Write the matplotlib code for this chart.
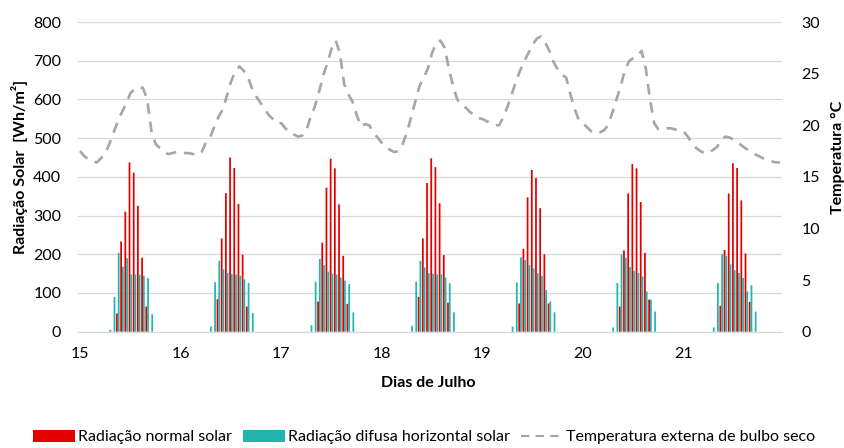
import numpy as np
import matplotlib
matplotlib.use("Agg")
import matplotlib.pyplot as plt
from matplotlib.lines import Line2D
from matplotlib.patches import Patch

plt.rcParams['font.family'] = ['Lato', 'DejaVu Sans']

days = [15, 16, 17, 18, 19, 20, 21]
sun_hours = list(range(7, 18))

# hourly radiation for hours 7..17 of each day [Wh/m2]
normal = [
    [0, 0, 47, 233, 310, 437, 411, 325, 191, 65, 0],
    [0, 0, 84, 241, 358, 450, 423, 330, 199, 65, 0],
    [0, 0, 78, 230, 372, 447, 422, 329, 196, 72, 0],
    [0, 0, 90, 241, 384, 448, 425, 332, 198, 75, 0],
    [0, 0, 73, 214, 347, 418, 397, 319, 200, 73, 0],
    [0, 0, 65, 210, 357, 433, 422, 335, 204, 83, 0],
    [0, 0, 67, 211, 357, 435, 423, 339, 202, 77, 0],
]
diffuse = [
    [5, 90, 204, 168, 190, 148, 148, 147, 145, 138, 45],
    [13, 128, 183, 161, 152, 150, 148, 145, 135, 126, 48],
    [17, 129, 188, 172, 155, 150, 148, 140, 132, 123, 50],
    [15, 129, 183, 166, 152, 150, 148, 148, 140, 125, 50],
    [13, 127, 192, 185, 172, 164, 151, 144, 108, 78, 50],
    [11, 126, 200, 191, 167, 157, 152, 143, 104, 83, 52],
    [11, 126, 200, 196, 174, 159, 152, 139, 104, 120, 52],
]

# dry bulb temperature, hours 0..23 of each day [C]
temp_15 = [17.5, 17.0, 16.7, 16.5, 16.4, 16.8, 17.3, 18.2, 19.3, 20.4, 21.3, 22.1,
           23.1, 23.5, 23.7, 23.6, 22.5, 19.5, 18.2, 17.8, 17.5, 17.2, 17.3, 17.4]
temp_16 = [17.4, 17.3, 17.3, 17.2, 17.1, 17.4, 18.3, 18.8, 19.8, 20.8, 21.5, 22.8,
           24.2, 25.2, 25.7, 25.3, 24.7, 23.6, 22.8, 22.2, 21.6, 21.0, 20.6, 20.2]
temp_17 = [20.2, 19.7, 19.3, 19.1, 18.9, 19.0, 19.5, 20.8, 21.8, 23.2, 24.8, 26.0,
           27.4, 28.2, 27.0, 24.0, 23.0, 22.3, 21.0, 19.9, 20.1, 20.0, 19.3, 18.8]
temp_18 = [18.3, 17.9, 17.6, 17.4, 17.5, 18.2, 19.3, 20.8, 22.3, 23.8, 24.6, 25.5,
           27.0, 28.0, 28.2, 27.5, 25.5, 23.8, 22.5, 22.0, 21.7, 21.3, 21.0, 20.7]
temp_19 = [20.6, 20.4, 20.2, 20.0, 20.0, 20.8, 21.8, 23.0, 24.2, 25.3, 26.2, 27.0,
           27.8, 28.4, 28.6, 28.0, 27.2, 26.1, 25.4, 24.9, 24.6, 23.0, 21.6, 20.5]
temp_20 = [20.2, 19.8, 19.4, 19.2, 19.3, 19.5, 20.0, 21.2, 22.5, 23.8, 25.3, 26.2,
           26.5, 26.7, 27.2, 25.5, 22.5, 20.2, 19.6, 19.6, 19.7, 19.7, 19.6, 19.4]
temp_21 = [19.4, 18.9, 18.3, 17.8, 17.5, 17.3, 17.3, 17.6, 17.9, 18.6, 18.9, 18.8,
           18.6, 18.3, 18.0, 17.7, 17.5, 17.2, 17.0, 16.8, 16.6, 16.5, 16.4, 16.4]

RED = '#E50000'
TEAL = '#22B5AE'
GRAY = '#A6A6A6'
GRID = '#D9D9D9'

n = len(days) * 24
x = np.arange(n)
rad_normal = np.zeros(n)
rad_diffuse = np.zeros(n)
for i in range(len(days)):
    idx = i * 24 + np.array(sun_hours)
    rad_normal[idx] = normal[i]
    rad_diffuse[idx] = diffuse[i]
temperature = np.concatenate([temp_15, temp_16, temp_17, temp_18, temp_19, temp_20, temp_21])

fig = plt.figure(figsize=(8.44, 4.48), dpi=100)
ax = fig.add_axes([78 / 844, 1 - 331.7 / 448, 704 / 844, 309.7 / 448])

w = 0.42
ax.bar(x - w / 2, rad_normal, width=w, color=RED, linewidth=0, snap=False, zorder=2)
ax.bar(x + w / 2, rad_diffuse, width=w, color=TEAL, linewidth=0, snap=False, zorder=3)

ax.set_xlim(-0.5, n - 0.5)
ax.set_ylim(0, 800)
ax.set_yticks(range(0, 801, 100))
ax.set_xticks(np.arange(len(days)) * 24)
ax.set_xticklabels([str(d) for d in days])
ax.yaxis.grid(True, color=GRID, linewidth=0.9)
ax.set_axisbelow(True)
for s in ['top', 'left', 'right']:
    ax.spines[s].set_visible(False)
ax.spines['bottom'].set_color(GRID)
ax.spines['bottom'].set_linewidth(0.9)
ax.tick_params(axis='y', length=0, pad=12, labelsize=11.5)
ax.tick_params(axis='x', length=0, pad=11, labelsize=11.5)

ax2 = ax.twinx()
ax2.plot(x, temperature, color=GRAY, linewidth=1.9, dashes=(4, 3), zorder=4)
ax2.set_ylim(0, 30)
ax2.set_yticks(range(0, 31, 5))
for s in ax2.spines.values():
    s.set_visible(False)
ax2.tick_params(axis='y', length=0, pad=14, labelsize=11.5)

fig.text(20 / 844, 1 - 167 / 448, 'Radiação Solar  [Wh/m²]', rotation=90,
         ha='center', va='center', fontsize=11.5, fontweight='bold')
fig.text(838 / 844, 1 - 157 / 448, 'Temperatura °C', rotation=90,
         ha='center', va='center', fontsize=11.5, fontweight='bold')
fig.text(428 / 844, 1 - 383 / 448, 'Dias de Julho', ha='center', va='center',
         fontsize=11.5, fontweight='bold')

handles = [
    Patch(facecolor=RED, edgecolor='none'),
    Patch(facecolor=TEAL, edgecolor='none'),
    Line2D([0], [0], color=GRAY, linewidth=1.5, dashes=(4, 3)),
]
labels = ['Radiação normal solar', 'Radiação difusa horizontal solar',
          'Temperatura externa de bulbo seco']
fig.legend(handles, labels, loc='center', bbox_to_anchor=(424 / 844, 1 - 437 / 448),
           ncol=3, frameon=False, fontsize=11.5, handlelength=2.6, handleheight=0.8,
           handletextpad=0.2, columnspacing=0.7)

fig.savefig('out.png', dpi=100)
